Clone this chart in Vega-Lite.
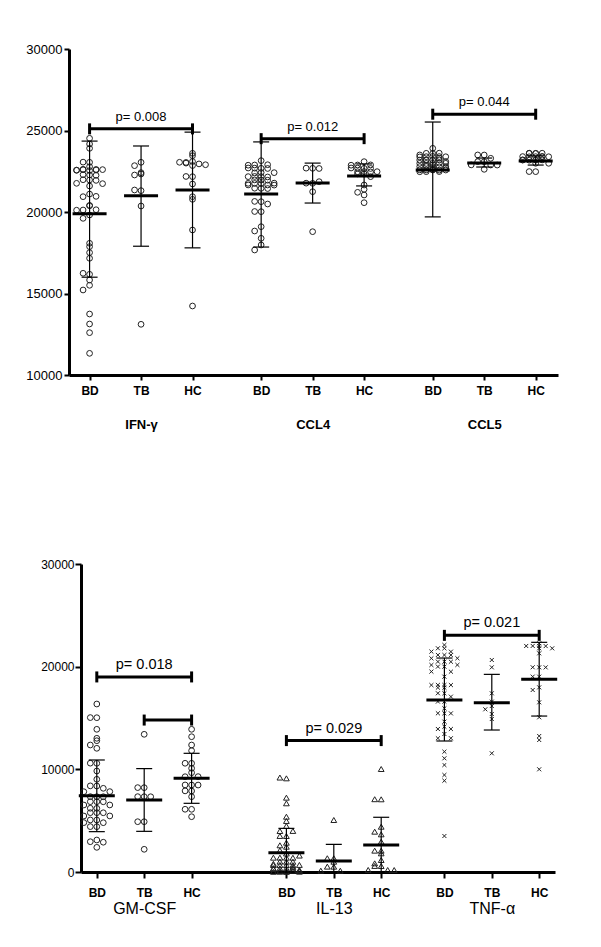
{
"$schema": "https://vega.github.io/schema/vega-lite/v6.json",
"padding": {"left": 25, "top": 43, "right": 5, "bottom": 5},
"spacing": 127,
"columns": 1,
"config": {"font": "Liberation Sans", "view": {"stroke": null}, "axis": {"grid": false, "domainColor": "#000", "tickColor": "#000", "labelColor": "#000"}},
"datasets": {
"ptsTop": [
{"c":"IFN-γ","g":"BD","v":24521},{"c":"IFN-γ","g":"BD","v":24171},{"c":"IFN-γ","g":"BD","v":23906},{"c":"IFN-γ","g":"BD","v":23049},{"c":"IFN-γ","g":"BD","v":23060},{"c":"IFN-γ","g":"BD","v":22780},{"c":"IFN-γ","g":"BD","v":22620},{"c":"IFN-γ","g":"BD","v":22577},{"c":"IFN-γ","g":"BD","v":22560},{"c":"IFN-γ","g":"BD","v":22600},{"c":"IFN-γ","g":"BD","v":22540},{"c":"IFN-γ","g":"BD","v":22590},{"c":"IFN-γ","g":"BD","v":22610},{"c":"IFN-γ","g":"BD","v":22570},{"c":"IFN-γ","g":"BD","v":22270},{"c":"IFN-γ","g":"BD","v":22290},{"c":"IFN-γ","g":"BD","v":22250},{"c":"IFN-γ","g":"BD","v":21963},{"c":"IFN-γ","g":"BD","v":21980},{"c":"IFN-γ","g":"BD","v":21940},{"c":"IFN-γ","g":"BD","v":21759},{"c":"IFN-γ","g":"BD","v":21740},{"c":"IFN-γ","g":"BD","v":21595},{"c":"IFN-γ","g":"BD","v":21100},{"c":"IFN-γ","g":"BD","v":20940},{"c":"IFN-γ","g":"BD","v":20960},{"c":"IFN-γ","g":"BD","v":20388},{"c":"IFN-γ","g":"BD","v":20400},{"c":"IFN-γ","g":"BD","v":20123},{"c":"IFN-γ","g":"BD","v":20140},{"c":"IFN-γ","g":"BD","v":20110},{"c":"IFN-γ","g":"BD","v":19816},{"c":"IFN-γ","g":"BD","v":19611},{"c":"IFN-γ","g":"BD","v":18080},{"c":"IFN-γ","g":"BD","v":17876},{"c":"IFN-γ","g":"BD","v":17508},{"c":"IFN-γ","g":"BD","v":17160},{"c":"IFN-γ","g":"BD","v":16178},{"c":"IFN-γ","g":"BD","v":16240},{"c":"IFN-γ","g":"BD","v":15828},{"c":"IFN-γ","g":"BD","v":15503},{"c":"IFN-γ","g":"BD","v":15215},{"c":"IFN-γ","g":"BD","v":13742},{"c":"IFN-γ","g":"BD","v":13129},{"c":"IFN-γ","g":"BD","v":12597},{"c":"IFN-γ","g":"BD","v":11329},
{"c":"IFN-γ","g":"TB","v":23049},{"c":"IFN-γ","g":"TB","v":22843},{"c":"IFN-γ","g":"TB","v":22331},{"c":"IFN-γ","g":"TB","v":22270},{"c":"IFN-γ","g":"TB","v":22413},{"c":"IFN-γ","g":"TB","v":21309},{"c":"IFN-γ","g":"TB","v":21350},{"c":"IFN-γ","g":"TB","v":20368},{"c":"IFN-γ","g":"TB","v":13110},
{"c":"IFN-γ","g":"HC","v":23600},{"c":"IFN-γ","g":"HC","v":23455},{"c":"IFN-γ","g":"HC","v":23100},{"c":"IFN-γ","g":"HC","v":23000},{"c":"IFN-γ","g":"HC","v":22950},{"c":"IFN-γ","g":"HC","v":23050},{"c":"IFN-γ","g":"HC","v":22900},{"c":"IFN-γ","g":"HC","v":22850},{"c":"IFN-γ","g":"HC","v":23040},{"c":"IFN-γ","g":"HC","v":22168},{"c":"IFN-γ","g":"HC","v":22180},{"c":"IFN-γ","g":"HC","v":21718},{"c":"IFN-γ","g":"HC","v":20940},{"c":"IFN-γ","g":"HC","v":20777},{"c":"IFN-γ","g":"HC","v":18896},{"c":"IFN-γ","g":"HC","v":14233},
{"c":"CCL4","g":"BD","v":23150},{"c":"CCL4","g":"BD","v":22884},{"c":"CCL4","g":"BD","v":22900},{"c":"CCL4","g":"BD","v":22870},{"c":"CCL4","g":"BD","v":22680},{"c":"CCL4","g":"BD","v":22690},{"c":"CCL4","g":"BD","v":22670},{"c":"CCL4","g":"BD","v":22700},{"c":"CCL4","g":"BD","v":22413},{"c":"CCL4","g":"BD","v":22420},{"c":"CCL4","g":"BD","v":22400},{"c":"CCL4","g":"BD","v":22168},{"c":"CCL4","g":"BD","v":22180},{"c":"CCL4","g":"BD","v":22150},{"c":"CCL4","g":"BD","v":22170},{"c":"CCL4","g":"BD","v":21963},{"c":"CCL4","g":"BD","v":21970},{"c":"CCL4","g":"BD","v":21950},{"c":"CCL4","g":"BD","v":21759},{"c":"CCL4","g":"BD","v":21770},{"c":"CCL4","g":"BD","v":21740},{"c":"CCL4","g":"BD","v":21750},{"c":"CCL4","g":"BD","v":21657},{"c":"CCL4","g":"BD","v":21660},{"c":"CCL4","g":"BD","v":21650},{"c":"CCL4","g":"BD","v":21452},{"c":"CCL4","g":"BD","v":21460},{"c":"CCL4","g":"BD","v":21440},{"c":"CCL4","g":"BD","v":20633},{"c":"CCL4","g":"BD","v":20650},{"c":"CCL4","g":"BD","v":20490},{"c":"CCL4","g":"BD","v":20021},{"c":"CCL4","g":"BD","v":20030},{"c":"CCL4","g":"BD","v":19100},{"c":"CCL4","g":"BD","v":18834},{"c":"CCL4","g":"BD","v":18386},{"c":"CCL4","g":"BD","v":17976},{"c":"CCL4","g":"BD","v":17669},
{"c":"CCL4","g":"TB","v":22680},{"c":"CCL4","g":"TB","v":22690},{"c":"CCL4","g":"TB","v":22670},{"c":"CCL4","g":"TB","v":21759},{"c":"CCL4","g":"TB","v":21770},{"c":"CCL4","g":"TB","v":21861},{"c":"CCL4","g":"TB","v":21247},{"c":"CCL4","g":"TB","v":18793},
{"c":"CCL4","g":"HC","v":23088},{"c":"CCL4","g":"HC","v":22884},{"c":"CCL4","g":"HC","v":22890},{"c":"CCL4","g":"HC","v":22870},{"c":"CCL4","g":"HC","v":22680},{"c":"CCL4","g":"HC","v":22690},{"c":"CCL4","g":"HC","v":22670},{"c":"CCL4","g":"HC","v":22700},{"c":"CCL4","g":"HC","v":22475},{"c":"CCL4","g":"HC","v":22480},{"c":"CCL4","g":"HC","v":22470},{"c":"CCL4","g":"HC","v":22460},{"c":"CCL4","g":"HC","v":22331},{"c":"CCL4","g":"HC","v":22340},{"c":"CCL4","g":"HC","v":22168},{"c":"CCL4","g":"HC","v":21657},{"c":"CCL4","g":"HC","v":21391},{"c":"CCL4","g":"HC","v":21207},{"c":"CCL4","g":"HC","v":21043},{"c":"CCL4","g":"HC","v":20572},
{"c":"CCL5","g":"BD","v":23906},{"c":"CCL5","g":"BD","v":23600},{"c":"CCL5","g":"BD","v":23610},{"c":"CCL5","g":"BD","v":23590},{"c":"CCL5","g":"BD","v":23394},{"c":"CCL5","g":"BD","v":23400},{"c":"CCL5","g":"BD","v":23380},{"c":"CCL5","g":"BD","v":23390},{"c":"CCL5","g":"BD","v":23410},{"c":"CCL5","g":"BD","v":23190},{"c":"CCL5","g":"BD","v":23200},{"c":"CCL5","g":"BD","v":23180},{"c":"CCL5","g":"BD","v":23195},{"c":"CCL5","g":"BD","v":23185},{"c":"CCL5","g":"BD","v":22987},{"c":"CCL5","g":"BD","v":22990},{"c":"CCL5","g":"BD","v":22980},{"c":"CCL5","g":"BD","v":22995},{"c":"CCL5","g":"BD","v":22985},{"c":"CCL5","g":"BD","v":22781},{"c":"CCL5","g":"BD","v":22790},{"c":"CCL5","g":"BD","v":22770},{"c":"CCL5","g":"BD","v":22785},{"c":"CCL5","g":"BD","v":22775},{"c":"CCL5","g":"BD","v":22577},{"c":"CCL5","g":"BD","v":22580},{"c":"CCL5","g":"BD","v":22570},{"c":"CCL5","g":"BD","v":22585},{"c":"CCL5","g":"BD","v":22575},{"c":"CCL5","g":"BD","v":22590},{"c":"CCL5","g":"BD","v":22475},{"c":"CCL5","g":"BD","v":22480},{"c":"CCL5","g":"BD","v":22470},{"c":"CCL5","g":"BD","v":23100},{"c":"CCL5","g":"BD","v":22900},{"c":"CCL5","g":"BD","v":22700},{"c":"CCL5","g":"BD","v":22650},{"c":"CCL5","g":"BD","v":23300},{"c":"CCL5","g":"BD","v":23500},{"c":"CCL5","g":"BD","v":22850},
{"c":"CCL5","g":"TB","v":23497},{"c":"CCL5","g":"TB","v":23500},{"c":"CCL5","g":"TB","v":23294},{"c":"CCL5","g":"TB","v":23088},{"c":"CCL5","g":"TB","v":23090},{"c":"CCL5","g":"TB","v":22884},{"c":"CCL5","g":"TB","v":22890},{"c":"CCL5","g":"TB","v":22880},{"c":"CCL5","g":"TB","v":22618},
{"c":"CCL5","g":"HC","v":23600},{"c":"CCL5","g":"HC","v":23610},{"c":"CCL5","g":"HC","v":23590},{"c":"CCL5","g":"HC","v":23605},{"c":"CCL5","g":"HC","v":23595},{"c":"CCL5","g":"HC","v":23394},{"c":"CCL5","g":"HC","v":23400},{"c":"CCL5","g":"HC","v":23390},{"c":"CCL5","g":"HC","v":23395},{"c":"CCL5","g":"HC","v":23385},{"c":"CCL5","g":"HC","v":23405},{"c":"CCL5","g":"HC","v":23190},{"c":"CCL5","g":"HC","v":23200},{"c":"CCL5","g":"HC","v":23180},{"c":"CCL5","g":"HC","v":23195},{"c":"CCL5","g":"HC","v":23185},{"c":"CCL5","g":"HC","v":22987},{"c":"CCL5","g":"HC","v":22990},{"c":"CCL5","g":"HC","v":22475},{"c":"CCL5","g":"HC","v":22480}
],
"ptsBot": [
{"c":"GM-CSF","g":"BD","v":16363},{"c":"GM-CSF","g":"BD","v":15030},{"c":"GM-CSF","g":"BD","v":15040},{"c":"GM-CSF","g":"BD","v":13899},{"c":"GM-CSF","g":"BD","v":12788},{"c":"GM-CSF","g":"BD","v":13023},{"c":"GM-CSF","g":"BD","v":12370},{"c":"GM-CSF","g":"BD","v":12048},{"c":"GM-CSF","g":"BD","v":10587},{"c":"GM-CSF","g":"BD","v":10600},{"c":"GM-CSF","g":"BD","v":9837},{"c":"GM-CSF","g":"BD","v":9029},{"c":"GM-CSF","g":"BD","v":8376},{"c":"GM-CSF","g":"BD","v":8390},{"c":"GM-CSF","g":"BD","v":8152},{"c":"GM-CSF","g":"BD","v":7821},{"c":"GM-CSF","g":"BD","v":7830},{"c":"GM-CSF","g":"BD","v":7334},{"c":"GM-CSF","g":"BD","v":7340},{"c":"GM-CSF","g":"BD","v":7330},{"c":"GM-CSF","g":"BD","v":6847},{"c":"GM-CSF","g":"BD","v":6850},{"c":"GM-CSF","g":"BD","v":6840},{"c":"GM-CSF","g":"BD","v":6526},{"c":"GM-CSF","g":"BD","v":6530},{"c":"GM-CSF","g":"BD","v":6200},{"c":"GM-CSF","g":"BD","v":6210},{"c":"GM-CSF","g":"BD","v":5776},{"c":"GM-CSF","g":"BD","v":5780},{"c":"GM-CSF","g":"BD","v":5770},{"c":"GM-CSF","g":"BD","v":5454},{"c":"GM-CSF","g":"BD","v":5460},{"c":"GM-CSF","g":"BD","v":5065},{"c":"GM-CSF","g":"BD","v":5070},{"c":"GM-CSF","g":"BD","v":4802},{"c":"GM-CSF","g":"BD","v":4810},{"c":"GM-CSF","g":"BD","v":4412},{"c":"GM-CSF","g":"BD","v":4420},{"c":"GM-CSF","g":"BD","v":3117},{"c":"GM-CSF","g":"BD","v":2950},{"c":"GM-CSF","g":"BD","v":2900},{"c":"GM-CSF","g":"BD","v":2402},
{"c":"GM-CSF","g":"TB","v":13412},{"c":"GM-CSF","g":"TB","v":8215},{"c":"GM-CSF","g":"TB","v":8220},{"c":"GM-CSF","g":"TB","v":7334},{"c":"GM-CSF","g":"TB","v":7340},{"c":"GM-CSF","g":"TB","v":7330},{"c":"GM-CSF","g":"TB","v":4899},{"c":"GM-CSF","g":"TB","v":4900},{"c":"GM-CSF","g":"TB","v":2211},
{"c":"GM-CSF","g":"HC","v":13899},{"c":"GM-CSF","g":"HC","v":13178},{"c":"GM-CSF","g":"HC","v":12370},{"c":"GM-CSF","g":"HC","v":11815},{"c":"GM-CSF","g":"HC","v":10587},{"c":"GM-CSF","g":"HC","v":10590},{"c":"GM-CSF","g":"HC","v":10100},{"c":"GM-CSF","g":"HC","v":9672},{"c":"GM-CSF","g":"HC","v":9282},{"c":"GM-CSF","g":"HC","v":9290},{"c":"GM-CSF","g":"HC","v":8474},{"c":"GM-CSF","g":"HC","v":8480},{"c":"GM-CSF","g":"HC","v":8470},{"c":"GM-CSF","g":"HC","v":7890},{"c":"GM-CSF","g":"HC","v":7900},{"c":"GM-CSF","g":"HC","v":7334},{"c":"GM-CSF","g":"HC","v":6107},{"c":"GM-CSF","g":"HC","v":6110},{"c":"GM-CSF","g":"HC","v":5386},
{"c":"IL-13","g":"BD","v":9123},{"c":"IL-13","g":"BD","v":9200},{"c":"IL-13","g":"BD","v":7240},{"c":"IL-13","g":"BD","v":6691},{"c":"IL-13","g":"BD","v":5386},{"c":"IL-13","g":"BD","v":4970},{"c":"IL-13","g":"BD","v":4480},{"c":"IL-13","g":"BD","v":3993},{"c":"IL-13","g":"BD","v":4000},{"c":"IL-13","g":"BD","v":3506},{"c":"IL-13","g":"BD","v":3510},{"c":"IL-13","g":"BD","v":2854},{"c":"IL-13","g":"BD","v":2464},{"c":"IL-13","g":"BD","v":1393},{"c":"IL-13","g":"BD","v":1400},{"c":"IL-13","g":"BD","v":1390},{"c":"IL-13","g":"BD","v":1395},{"c":"IL-13","g":"BD","v":1003},{"c":"IL-13","g":"BD","v":1010},{"c":"IL-13","g":"BD","v":1000},{"c":"IL-13","g":"BD","v":682},{"c":"IL-13","g":"BD","v":690},{"c":"IL-13","g":"BD","v":680},{"c":"IL-13","g":"BD","v":685},{"c":"IL-13","g":"BD","v":675},{"c":"IL-13","g":"BD","v":360},{"c":"IL-13","g":"BD","v":365},{"c":"IL-13","g":"BD","v":355},{"c":"IL-13","g":"BD","v":362},{"c":"IL-13","g":"BD","v":127},{"c":"IL-13","g":"BD","v":130},{"c":"IL-13","g":"BD","v":125},{"c":"IL-13","g":"BD","v":128},{"c":"IL-13","g":"BD","v":20},{"c":"IL-13","g":"BD","v":30},{"c":"IL-13","g":"BD","v":10},{"c":"IL-13","g":"BD","v":25},{"c":"IL-13","g":"BD","v":1600},{"c":"IL-13","g":"BD","v":2100},{"c":"IL-13","g":"BD","v":800},{"c":"IL-13","g":"BD","v":500},{"c":"IL-13","g":"BD","v":300},{"c":"IL-13","g":"BD","v":200},{"c":"IL-13","g":"BD","v":1800},{"c":"IL-13","g":"BD","v":2600},
{"c":"IL-13","g":"TB","v":5065},{"c":"IL-13","g":"TB","v":1334},{"c":"IL-13","g":"TB","v":1340},{"c":"IL-13","g":"TB","v":1003},{"c":"IL-13","g":"TB","v":520},{"c":"IL-13","g":"TB","v":525},{"c":"IL-13","g":"TB","v":127},{"c":"IL-13","g":"TB","v":130},
{"c":"IL-13","g":"HC","v":10032},{"c":"IL-13","g":"HC","v":7081},{"c":"IL-13","g":"HC","v":7090},{"c":"IL-13","g":"HC","v":4412},{"c":"IL-13","g":"HC","v":3928},{"c":"IL-13","g":"HC","v":3669},{"c":"IL-13","g":"HC","v":2951},{"c":"IL-13","g":"HC","v":2078},{"c":"IL-13","g":"HC","v":2080},{"c":"IL-13","g":"HC","v":1818},{"c":"IL-13","g":"HC","v":1169},{"c":"IL-13","g":"HC","v":844},{"c":"IL-13","g":"HC","v":584},{"c":"IL-13","g":"HC","v":590},{"c":"IL-13","g":"HC","v":195},{"c":"IL-13","g":"HC","v":200},{"c":"IL-13","g":"HC","v":190},
{"c":"TNF-α","g":"BD","v":22110},{"c":"TNF-α","g":"BD","v":21786},{"c":"TNF-α","g":"BD","v":21790},{"c":"TNF-α","g":"BD","v":21461},{"c":"TNF-α","g":"BD","v":21470},{"c":"TNF-α","g":"BD","v":21136},{"c":"TNF-α","g":"BD","v":21140},{"c":"TNF-α","g":"BD","v":21130},{"c":"TNF-α","g":"BD","v":20812},{"c":"TNF-α","g":"BD","v":20820},{"c":"TNF-α","g":"BD","v":20487},{"c":"TNF-α","g":"BD","v":20490},{"c":"TNF-α","g":"BD","v":20480},{"c":"TNF-α","g":"BD","v":20162},{"c":"TNF-α","g":"BD","v":20170},{"c":"TNF-α","g":"BD","v":19999},{"c":"TNF-α","g":"BD","v":20005},{"c":"TNF-α","g":"BD","v":19511},{"c":"TNF-α","g":"BD","v":19520},{"c":"TNF-α","g":"BD","v":19025},{"c":"TNF-α","g":"BD","v":18213},{"c":"TNF-α","g":"BD","v":18220},{"c":"TNF-α","g":"BD","v":18210},{"c":"TNF-α","g":"BD","v":18205},{"c":"TNF-α","g":"BD","v":17951},{"c":"TNF-α","g":"BD","v":17960},{"c":"TNF-α","g":"BD","v":17405},{"c":"TNF-α","g":"BD","v":17410},{"c":"TNF-α","g":"BD","v":17080},{"c":"TNF-α","g":"BD","v":16593},{"c":"TNF-α","g":"BD","v":16600},{"c":"TNF-α","g":"BD","v":15944},{"c":"TNF-α","g":"BD","v":15457},{"c":"TNF-α","g":"BD","v":15460},{"c":"TNF-α","g":"BD","v":15450},{"c":"TNF-α","g":"BD","v":14646},{"c":"TNF-α","g":"BD","v":14152},{"c":"TNF-α","g":"BD","v":13928},{"c":"TNF-α","g":"BD","v":13930},{"c":"TNF-α","g":"BD","v":13441},{"c":"TNF-α","g":"BD","v":13023},{"c":"TNF-α","g":"BD","v":13030},{"c":"TNF-α","g":"BD","v":11717},{"c":"TNF-α","g":"BD","v":11074},{"c":"TNF-α","g":"BD","v":10422},{"c":"TNF-α","g":"BD","v":9448},{"c":"TNF-α","g":"BD","v":8893},{"c":"TNF-α","g":"BD","v":3506},
{"c":"TNF-α","g":"TB","v":20649},{"c":"TNF-α","g":"TB","v":19935},{"c":"TNF-α","g":"TB","v":17405},{"c":"TNF-α","g":"TB","v":16593},{"c":"TNF-α","g":"TB","v":16168},{"c":"TNF-α","g":"TB","v":15847},{"c":"TNF-α","g":"TB","v":15389},{"c":"TNF-α","g":"TB","v":14902},{"c":"TNF-α","g":"TB","v":11561},
{"c":"TNF-α","g":"HC","v":22275},{"c":"TNF-α","g":"HC","v":22012},{"c":"TNF-α","g":"HC","v":22020},{"c":"TNF-α","g":"HC","v":22005},{"c":"TNF-α","g":"HC","v":22015},{"c":"TNF-α","g":"HC","v":21786},{"c":"TNF-α","g":"HC","v":21790},{"c":"TNF-α","g":"HC","v":21299},{"c":"TNF-α","g":"HC","v":19935},{"c":"TNF-α","g":"HC","v":19940},{"c":"TNF-α","g":"HC","v":19930},{"c":"TNF-α","g":"HC","v":19025},{"c":"TNF-α","g":"HC","v":19030},{"c":"TNF-α","g":"HC","v":17984},{"c":"TNF-α","g":"HC","v":17727},{"c":"TNF-α","g":"HC","v":16528},{"c":"TNF-α","g":"HC","v":15068},{"c":"TNF-α","g":"HC","v":13246},{"c":"TNF-α","g":"HC","v":12857},{"c":"TNF-α","g":"HC","v":10003}
],
"statTop": [
{"c":"IFN-γ","g":"BD","mean":19900,"lo":16000,"hi":24350},{"c":"IFN-γ","g":"TB","mean":21000,"lo":17900,"hi":24050},{"c":"IFN-γ","g":"HC","mean":21350,"lo":17800,"hi":24900},
{"c":"CCL4","g":"BD","mean":21100,"lo":17850,"hi":24300},{"c":"CCL4","g":"TB","mean":21780,"lo":20550,"hi":23000},{"c":"CCL4","g":"HC","mean":22210,"lo":21600,"hi":22950},
{"c":"CCL5","g":"BD","mean":22580,"lo":19700,"hi":25520},{"c":"CCL5","g":"TB","mean":23010,"lo":22760,"hi":23310},{"c":"CCL5","g":"HC","mean":23130,"lo":22880,"hi":23440}
],
"statBot": [
{"c":"GM-CSF","g":"BD","mean":7430,"lo":3930,"hi":10910},{"c":"GM-CSF","g":"TB","mean":7010,"lo":3960,"hi":10070},{"c":"GM-CSF","g":"HC","mean":9120,"lo":6690,"hi":11560},
{"c":"IL-13","g":"BD","mean":1880,"lo":0,"hi":4250},{"c":"IL-13","g":"TB","mean":1070,"lo":0,"hi":2700},{"c":"IL-13","g":"HC","mean":2630,"lo":0,"hi":5330},
{"c":"TNF-α","g":"BD","mean":16750,"lo":12760,"hi":20840},{"c":"TNF-α","g":"TB","mean":16490,"lo":13830,"hi":19250},{"c":"TNF-α","g":"HC","mean":18770,"lo":15190,"hi":22370}
],
"brkTop": [
{"c":"IFN-γ","a":"BD","b":"HC","m":"TB","y":25100,"t":"p= 0.008"},
{"c":"CCL4","a":"BD","b":"HC","m":"TB","y":24500,"t":"p= 0.012"},
{"c":"CCL5","a":"BD","b":"HC","m":"TB","y":26000,"t":"p= 0.044"}
],
"brkBot": [
{"c":"GM-CSF","a":"BD","b":"HC","m":"TB","y":19000,"t":"p= 0.018"},
{"c":"GM-CSF","a":"TB","b":"HC","m":"TB","y":14800,"t":""},
{"c":"IL-13","a":"BD","b":"HC","m":"TB","y":12800,"t":"p= 0.029"},
{"c":"TNF-α","a":"BD","b":"HC","m":"TB","y":23050,"t":"p= 0.021"}
]
},
"concat": [
{
"width": 489, "height": 326,
"resolve": {"axis": {"x": "independent"}},
"encoding": {"y": {"type": "quantitative", "scale": {"domain": [10000, 30000], "nice": false, "zero": false}, "axis": {"title": null, "values": [10000, 15000, 20000, 25000, 30000], "format": "d", "offset": 12, "domainWidth": 3, "tickWidth": 2, "tickSize": 5, "labelFontSize": 13, "labelPadding": 2}}},
"layer": [
{
"encoding": {"x": {"field": "key", "type": "nominal",
  "scale": {"type": "point", "padding": 1.3, "domain": ["IFN-γ|BD","_1","_2","_3","_4","_5","IFN-γ|TB","_6","_7","_8","_9","_10","IFN-γ|HC","_11","_12","_13","_14","_15","_16","_17","CCL4|BD","_18","_19","_20","_21","_22","CCL4|TB","_23","_24","_25","_26","_27","CCL4|HC","_28","_29","_30","_31","_32","_33","_34","CCL5|BD","_35","_36","_37","_38","_39","CCL5|TB","_40","_41","_42","_43","_44","CCL5|HC","_45","_46","_47"]},
  "axis": {"title": null, "values": ["IFN-γ|BD","IFN-γ|TB","IFN-γ|HC","CCL4|BD","CCL4|TB","CCL4|HC","CCL5|BD","CCL5|TB","CCL5|HC"], "labelExpr": "split(datum.value, '|')[1]", "position": -12, "tickOffset": 12, "domainWidth": 3, "tickWidth": 2, "tickSize": 5, "labelFontSize": 12, "labelFontWeight": "bold", "labelPadding": 5, "labelAngle": 0}}},
"layer": [
{"data": {"name": "ptsTop"},
 "transform": [{"calculate": "datum.c + '|' + datum.g", "as": "key"}, {"bin": {"step": 400, "extent": [10000, 30000]}, "field": "v", "as": "vb"}, {"window": [{"op": "row_number", "as": "r"}], "groupby": ["key", "vb"]}, {"calculate": "((((datum.r - 1) % 5) % 2) == 1 ? -1 : 1) * ceil(((datum.r - 1) % 5) / 2)", "as": "slot"}],
 "mark": {"type": "point", "shape": "circle", "filled": false, "size": 33, "stroke": "#222", "strokeWidth": 1, "opacity": 1},
 "encoding": {"xOffset": {"field": "slot", "type": "quantitative", "scale": {"domain": [-2, 2], "range": [-13, 13]}},
  "y": {"field": "v"}}},
{"data": {"name": "statTop"}, "transform": [{"calculate": "datum.c + '|' + datum.g", "as": "key"}],
 "mark": {"type": "rule", "strokeWidth": 1.2, "color": "#000"},
 "encoding": {"y": {"field": "lo"}, "y2": {"field": "hi"}}},
{"data": {"name": "statTop"}, "transform": [{"calculate": "datum.c + '|' + datum.g", "as": "key"}],
 "mark": {"type": "tick", "orient": "horizontal", "size": 16, "thickness": 1.2, "color": "#000", "opacity": 1},
 "encoding": {"y": {"field": "lo"}}},
{"data": {"name": "statTop"}, "transform": [{"calculate": "datum.c + '|' + datum.g", "as": "key"}],
 "mark": {"type": "tick", "orient": "horizontal", "size": 16, "thickness": 1.2, "color": "#000", "opacity": 1},
 "encoding": {"y": {"field": "hi"}}},
{"data": {"name": "brkTop"}, "transform": [{"calculate": "datum.c + '|' + datum.a", "as": "key"}, {"calculate": "datum.c + '|' + datum.b", "as": "key2"}],
 "mark": {"type": "rule", "strokeWidth": 3, "color": "#000"},
 "encoding": {"x2": {"field": "key2"}, "y": {"field": "y"}}},
{"data": {"name": "brkTop"}, "transform": [{"calculate": "datum.c + '|' + datum.a", "as": "ka"}, {"calculate": "datum.c + '|' + datum.b", "as": "kb"}, {"fold": ["ka", "kb"], "as": ["end", "key"]}],
 "mark": {"type": "tick", "orient": "vertical", "size": 11, "thickness": 3, "color": "#000", "opacity": 1},
 "encoding": {"y": {"field": "y"}}},
{"data": {"name": "brkTop"}, "transform": [{"filter": "datum.t != ''"}, {"calculate": "datum.c + '|' + datum.m", "as": "key"}],
 "mark": {"type": "text", "baseline": "alphabetic", "dy": -8, "fontSize": 13, "color": "#000"},
 "encoding": {"y": {"field": "y"}, "text": {"field": "t"}}}
]
},
{"data": {"name": "statTop"}, "transform": [{"calculate": "datum.c + '|' + datum.g", "as": "key"}],
 "mark": {"type": "tick", "orient": "horizontal", "size": 34, "thickness": 3, "color": "#000", "opacity": 1},
 "encoding": {"x": {"field": "key", "type": "nominal",
  "scale": {"type": "point", "padding": 1.3, "domain": ["IFN-γ|BD","_1","_2","_3","_4","_5","IFN-γ|TB","_6","_7","_8","_9","_10","IFN-γ|HC","_11","_12","_13","_14","_15","_16","_17","CCL4|BD","_18","_19","_20","_21","_22","CCL4|TB","_23","_24","_25","_26","_27","CCL4|HC","_28","_29","_30","_31","_32","_33","_34","CCL5|BD","_35","_36","_37","_38","_39","CCL5|TB","_40","_41","_42","_43","_44","CCL5|HC","_45","_46","_47"]},
  "axis": {"title": null, "orient": "bottom", "values": ["IFN-γ|TB","CCL4|TB","CCL5|TB"], "labelExpr": "split(datum.value, '|')[0]", "domain": false, "ticks": false, "labelFontSize": 13, "labelFontWeight": "bold", "labelPadding": 43, "labelAngle": 0}},
  "y": {"field": "mean"}}}
]
},
{
"width": 474, "height": 308,
"resolve": {"axis": {"x": "independent"}},
"encoding": {"y": {"type": "quantitative", "scale": {"domain": [0, 30000], "nice": false, "zero": false}, "axis": {"title": null, "values": [0, 10000, 20000, 30000], "format": "d", "domainWidth": 3, "tickWidth": 2, "tickSize": 6, "labelFontSize": 12, "labelPadding": 1}}},
"layer": [
{
"encoding": {"x": {"field": "key", "type": "nominal",
  "scale": {"type": "point", "padding": 1.58, "domain": ["GM-CSF|BD","_1","_2","GM-CSF|TB","_3","_4","GM-CSF|HC","_5","_6","_7","_8","_9","IL-13|BD","_10","_11","IL-13|TB","_12","_13","IL-13|HC","_14","_15","_16","TNF-α|BD","_17","_18","TNF-α|TB","_19","_20","TNF-α|HC"]},
  "axis": {"title": null, "values": ["GM-CSF|BD","GM-CSF|TB","GM-CSF|HC","IL-13|BD","IL-13|TB","IL-13|HC","TNF-α|BD","TNF-α|TB","TNF-α|HC"], "labelExpr": "split(datum.value, '|')[1]", "domainWidth": 3, "tickWidth": 2, "tickSize": 6, "labelFontSize": 12, "labelFontWeight": "bold", "labelPadding": 9, "labelAngle": 0}}},
"layer": [
{"data": {"name": "ptsBot"},
 "transform": [{"calculate": "datum.c + '|' + datum.g", "as": "key"}, {"bin": {"step": 650, "extent": [0, 30000]}, "field": "v", "as": "vb"}, {"window": [{"op": "row_number", "as": "r"}], "groupby": ["key", "vb"]}, {"calculate": "((((datum.r - 1) % 5) % 2) == 1 ? -1 : 1) * ceil(((datum.r - 1) % 5) / 2)", "as": "slot"}],
 "mark": {"type": "point", "filled": false, "size": 33, "stroke": "#222", "strokeWidth": 1, "opacity": 1},
 "encoding": {"xOffset": {"field": "slot", "type": "quantitative", "scale": {"domain": [-2, 2], "range": [-13, 13]}},
  "shape": {"field": "c", "type": "nominal", "scale": {"domain": ["GM-CSF", "IL-13", "TNF-α"], "range": ["circle", "triangle-up", "M-0.7,-0.7L0.7,0.7M-0.7,0.7L0.7,-0.7"]}, "legend": null},
  "strokeWidth": {"field": "c", "type": "nominal", "scale": {"domain": ["GM-CSF", "IL-13", "TNF-α"], "range": [1, 1, 2.2]}, "legend": null},
  "y": {"field": "v"}}},
{"data": {"name": "statBot"}, "transform": [{"calculate": "datum.c + '|' + datum.g", "as": "key"}],
 "mark": {"type": "rule", "strokeWidth": 1.2, "color": "#000"},
 "encoding": {"y": {"field": "lo"}, "y2": {"field": "hi"}}},
{"data": {"name": "statBot"}, "transform": [{"calculate": "datum.c + '|' + datum.g", "as": "key"}],
 "mark": {"type": "tick", "orient": "horizontal", "size": 16, "thickness": 1.2, "color": "#000", "opacity": 1},
 "encoding": {"y": {"field": "lo"}}},
{"data": {"name": "statBot"}, "transform": [{"calculate": "datum.c + '|' + datum.g", "as": "key"}],
 "mark": {"type": "tick", "orient": "horizontal", "size": 16, "thickness": 1.2, "color": "#000", "opacity": 1},
 "encoding": {"y": {"field": "hi"}}},
{"data": {"name": "brkBot"}, "transform": [{"calculate": "datum.c + '|' + datum.a", "as": "key"}, {"calculate": "datum.c + '|' + datum.b", "as": "key2"}],
 "mark": {"type": "rule", "strokeWidth": 3, "color": "#000"},
 "encoding": {"x2": {"field": "key2"}, "y": {"field": "y"}}},
{"data": {"name": "brkBot"}, "transform": [{"calculate": "datum.c + '|' + datum.a", "as": "ka"}, {"calculate": "datum.c + '|' + datum.b", "as": "kb"}, {"fold": ["ka", "kb"], "as": ["end", "key"]}],
 "mark": {"type": "tick", "orient": "vertical", "size": 11, "thickness": 3, "color": "#000", "opacity": 1},
 "encoding": {"y": {"field": "y"}}},
{"data": {"name": "brkBot"}, "transform": [{"filter": "datum.t != ''"}, {"calculate": "datum.c + '|' + datum.m", "as": "key"}],
 "mark": {"type": "text", "baseline": "alphabetic", "dy": -8, "fontSize": 14.5, "color": "#000"},
 "encoding": {"y": {"field": "y"}, "text": {"field": "t"}}}
]
},
{"data": {"name": "statBot"}, "transform": [{"calculate": "datum.c + '|' + datum.g", "as": "key"}],
 "mark": {"type": "tick", "orient": "horizontal", "size": 36, "thickness": 3, "color": "#000", "opacity": 1},
 "encoding": {"x": {"field": "key", "type": "nominal",
  "scale": {"type": "point", "padding": 1.58, "domain": ["GM-CSF|BD","_1","_2","GM-CSF|TB","_3","_4","GM-CSF|HC","_5","_6","_7","_8","_9","IL-13|BD","_10","_11","IL-13|TB","_12","_13","IL-13|HC","_14","_15","_16","TNF-α|BD","_17","_18","TNF-α|TB","_19","_20","TNF-α|HC"]},
  "axis": {"title": null, "orient": "bottom", "values": ["GM-CSF|TB","IL-13|TB","TNF-α|TB"], "labelExpr": "split(datum.value, '|')[0]", "domain": false, "ticks": false, "labelFontSize": 16, "labelFontWeight": "normal", "labelPadding": 28, "labelAngle": 0}},
  "y": {"field": "mean"}}}
]
}
]
}
